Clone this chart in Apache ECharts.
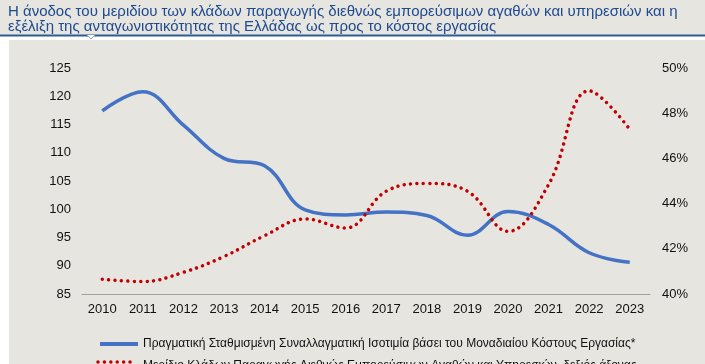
<!DOCTYPE html>
<html><head><meta charset="utf-8">
<script src="https://cdn.jsdelivr.net/npm/echarts@6/dist/echarts.min.js"></script>
<style>html,body{margin:0;padding:0;background:#E6E5E0;}#c{width:705px;height:364px;}</style>
</head><body><div id="c"></div>
<script>
const years = ['2010','2011','2012','2013','2014','2015','2016','2017','2018','2019','2020','2021','2022','2023'];
const reerULC = [117.4,120.8,114.9,109.0,107.7,99.9,99.0,99.5,98.9,95.4,99.6,97.3,92.3,90.6];
const tradableShare = [40.65,40.55,40.96,41.66,42.58,43.32,42.92,44.55,44.89,44.55,42.77,44.84,48.99,47.29];
const leftTicks = {min:85, max:125, interval:5};
const rightTicks = {min:40, max:50, interval:2};
const titleLines = ['Η άνοδος του μεριδίου των κλάδων παραγωγής διεθνώς εμπορεύσιμων αγαθών και υπηρεσιών και η',
  'εξέλιξη της ανταγωνιστικότητας της Ελλάδας ως προς το κόστος εργασίας'];
const seriesNames = ['Πραγματική Σταθμισμένη Συναλλαγματική Ισοτιμία βάσει του Μοναδιαίου Κόστους Εργασίας*',
  'Μερίδιο Κλάδων Παραγωγής Διεθνώς Εμπορεύσιμων Αγαθών και Υπηρεσιών, δεξιός άξονας'];

const chart = echarts.init(document.getElementById('c'), null, {renderer:'canvas'});
const font = 'Liberation Sans, Arial, sans-serif';
const legendText = {color:'#111',fontSize:12,fontFamily:font};
const dotStyle = {color:'#C00000',width:3.5,type:[0.01,6.4],cap:'round'};
chart.setOption({
  backgroundColor:'#E6E5E0',
  animation:false,
  textStyle:{fontFamily:font},
  grid:{left:82,right:55,top:68,bottom:70,containLabel:false},
  xAxis:{type:'category',data:years,boundaryGap:true,
    axisLine:{lineStyle:{color:'#A0A0A0',width:1}},axisTick:{show:false},
    axisLabel:{color:'#111',fontSize:13,margin:9,fontFamily:font}},
  yAxis:[
    {type:'value',min:leftTicks.min,max:leftTicks.max,interval:leftTicks.interval,
     splitLine:{show:false},axisLine:{show:false},axisTick:{show:false},
     axisLabel:{color:'#111',fontSize:13,margin:11,fontFamily:font}},
    {type:'value',min:rightTicks.min,max:rightTicks.max,interval:rightTicks.interval,
     splitLine:{show:false},axisLine:{show:false},axisTick:{show:false},
     axisLabel:{color:'#111',fontSize:13,margin:12,fontFamily:font,formatter:'{value}%'}}
  ],
  series:[
    {name:seriesNames[0],type:'line',data:reerULC,yAxisIndex:0,smooth:0.4,showSymbol:false,symbol:'none',
     lineStyle:{color:'#4472C4',width:3.5},itemStyle:{color:'#4472C4'}},
    {name:seriesNames[1],type:'line',data:tradableShare,yAxisIndex:1,smooth:0.4,showSymbol:false,symbol:'none',
     lineStyle:dotStyle,itemStyle:{color:'#C00000'}}
  ],
  legend:[
    {left:95,top:333,itemWidth:38,itemHeight:4,textStyle:legendText,
     data:[{name:seriesNames[0],icon:'rect',itemStyle:{color:'#4472C4'}}]},
    {left:93,top:355,itemWidth:40,itemHeight:4,textStyle:legendText,
     data:[{name:seriesNames[1],icon:'none'}]}
  ],
  graphic:[
    {type:'text',left:8,top:4,style:{text:titleLines[0],fill:'#1F4A90',font:'15px '+font}},
    {type:'text',left:8,top:19,style:{text:titleLines[1],fill:'#1F4A90',font:'15px '+font}},
    {type:'rect',shape:{x:0,y:36,width:705,height:4},style:{fill:'#FFFFFF'}},
    {type:'rect',shape:{x:0,y:36,width:9,height:330},style:{fill:'#FFFFFF'}},
    {type:'rect',shape:{x:0,y:34.5,width:705,height:2},style:{fill:'#2E5C95'}},
    {type:'polyline',shape:{points:[[87,35],[91,39],[95,35]]},style:{stroke:'#8AA3C4',fill:'#FFFFFF',lineWidth:1}},
    {type:'line',shape:{x1:98,y1:362,x2:133,y2:362},style:{stroke:'#C00000',lineWidth:3.5,lineDash:[0.01,6.4],lineCap:'round'}}
  ]
});
</script></body></html>
